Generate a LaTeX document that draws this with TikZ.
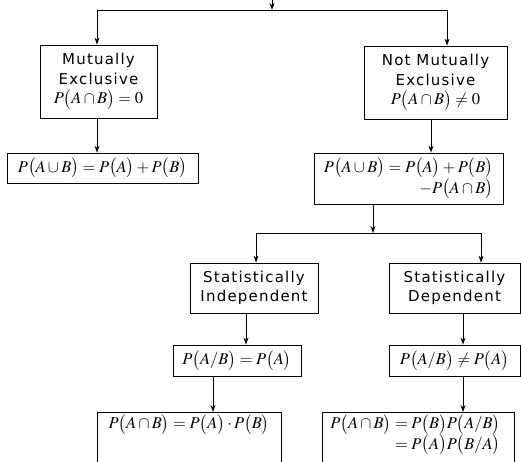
\documentclass[tikz,border=0pt]{standalone}
\usepackage{amsmath}
\usepackage{mathptmx}
\usepackage{fontspec}
\setmainfont{Liberation Serif}
\setsansfont{DejaVu Sans}[LetterSpace=8]
\usetikzlibrary{arrows.meta}
\newcommand{\prob}[1]{P\bigl(#1\bigr)}
\newcommand{\fml}[1]{{\fontsize{16.5}{19}\selectfont$#1$}}

\begin{document}
\begin{tikzpicture}[x=1pt,y=-1pt,>={Stealth[length=7pt,width=5pt]},line width=0.9pt]
    \tikzstyle{box}=[rectangle,draw=black,line width=0.8pt,align=center,inner sep=2pt,font=\sffamily\fontsize{15}{19.5}\selectfont]
    \useasboundingbox (0,0) rectangle (521,462);
    \fill[white] (0,0) rectangle (521,462);
    \clip (0,0) rectangle (521,462);
    % first split
    \node[box,minimum width=117pt,minimum height=73pt] (mutex) at (98.5,81.5) {Mutually\\Exclusive\\\fml{\prob{A\cap B}=0}};
    \node[box,minimum width=143pt,minimum height=73pt] (notmutex) at (435.5,82.5) {Not Mutually\\Exclusive\\\fml{\prob{A\cap B}\neq0}};
    \node[box,minimum width=191pt,minimum height=30pt] (mutexsum) at (102.5,168) {\fml{\prob{A\cup B}=\prob{A}+\prob{B}}};
    \node[box,minimum width=189pt,minimum height=51pt,align=right] (notsum) at (408.5,178.5) {\fml{\prob{A\cup B}=\prob{A}+\prob{B}}\\\fml{-\prob{A\cap B}}};
    % second split
    \node[box,minimum width=128pt,minimum height=50pt] (indep) at (254,288) {Statistically\\Independent};
    \node[box,minimum width=131pt,minimum height=50pt] (dep) at (454.5,288) {Statistically\\Dependent};
    \node[box,minimum width=128pt,minimum height=31pt] (indepP) at (237,360.5) {\fml{\prob{A/B}=\prob{A}}};
    \node[box,minimum width=131pt,minimum height=31pt] (depP) at (454.5,360.5) {\fml{\prob{A/B}\neq\prob{A}}};
    \node[box,anchor=north,minimum width=184pt,text depth=40pt] (indepM) at (189,412) {\fml{\prob{A\cap B}=\prob{A}\cdot\prob{B}}};
    \node[box,anchor=north west,align=right,text depth=30pt] (depM) at (322,412) {\hspace*{6pt}\fml{\prob{A\cap B}=\prob{B}\prob{A/B}}\hspace*{12pt}\\\fml{=\prob{A}\prob{B/A}}\hspace*{12pt}};
    % connectors
    \coordinate (entry) at (272,0);
    \coordinate (split) at (272,10);
    \coordinate (split2) at (373,233);
    \draw[->] (entry) -- (split);
    \draw[->] (split) -| ([xshift=-1.5pt]mutex.north);
    \draw[->] (split) -| ([xshift=11.5pt]notmutex.north);
    \draw[->] ([xshift=-1.5pt]mutex.south) -- ([xshift=-1.5pt]mutex.south |- mutexsum.north);
    \draw[->] ([xshift=-4.5pt]notmutex.south) -- ([xshift=-4.5pt]notmutex.south |- notsum.north);
    \draw[->] (notsum.south -| split2) -- (split2);
    \draw[->] (split2) -| ([xshift=2pt]indep.north);
    \draw[->] (split2) -| ([xshift=26.5pt]dep.north);
    \draw[->] ([xshift=-8pt]indep.south) -- ([xshift=-8pt]indep.south |- indepP.north);
    \draw[->] ([xshift=8.5pt]dep.south) -- ([xshift=8.5pt]dep.south |- depP.north);
    \draw[->] ([xshift=-24pt]indepP.south) -- ([xshift=-24pt]indepP.south |- indepM.north);
    \draw[->] ([xshift=8.5pt]depP.south) -- ([xshift=8.5pt]depP.south |- depM.north);
\end{tikzpicture}
\end{document}
